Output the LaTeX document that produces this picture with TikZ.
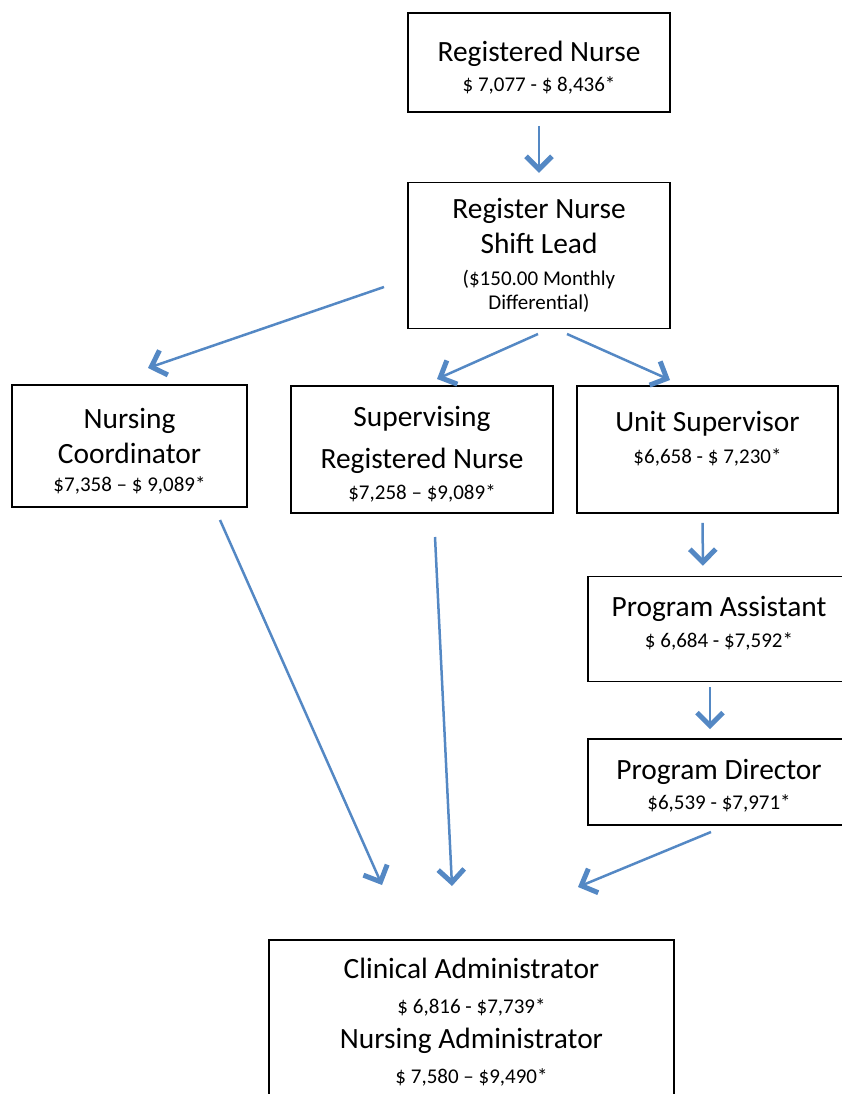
\documentclass[tikz,border=0pt]{standalone}
\usepackage{fontspec}
\setmainfont{Carlito}
\usetikzlibrary{positioning, arrows.meta, calc}
\definecolor{arrowblue}{RGB}{84,136,196}
\newcommand{\salary}[1]{{\fontsize{21}{25}\selectfont #1}}

\begin{document}
\begin{tikzpicture}[x=1pt, y=-1pt,%
  every node/.style={draw=black, line width=1.6pt, shape=rectangle, align=center,
    font=\fontsize{29.4}{35}\selectfont, inner sep=0pt},
  flow/.style={draw=arrowblue, line width=2.5pt,
    -{Straight Barb[length=13pt, width=26pt, line width=5pt]}}
  ]
  \useasboundingbox (0,0) rectangle (842,1094);
  \node[minimum width=262pt, minimum height=99pt] (rn) at (539,62.5)
    {\rule{0pt}{30pt}Registered Nurse\\[-5pt] \salary{\$ 7,077 - \$ 8,436*}};
  \node[minimum width=262pt, minimum height=146pt, below=69pt of rn] (lead)
    {Register Nurse\\Shift Lead\\[-3pt] \salary{(\$150.00 Monthly}\\[-11pt] \salary{Differential)}};
  \node[minimum width=235pt, minimum height=122pt] (coord) at (129.5,446)
    {\rule{0pt}{30pt}Nursing\\Coordinator\\[-7pt] \salary{\$7,358 -- \$ 9,089*}};
  \node[minimum width=262pt, minimum height=127pt] (srn) at (422,449.5)
    {\rule{0pt}{29pt}Supervising\\[7pt]Registered Nurse\\[-4pt] \salary{\$7,258 -- \$9,089*}};
  \node[minimum width=261pt, minimum height=127pt, text depth=25pt] (unit) at (707.5,449.5)
    {Unit Supervisor\\[-3pt] \salary{\$6,658 - \$ 7,230*}};
  \node[minimum width=262pt, minimum height=105pt, text depth=15pt] (pa) at (719,629)
    {Program Assistant\\[-4pt] \salary{\$ 6,684 - \$7,592*}};
  \node[minimum width=262pt, minimum height=86pt] (pd) at (719,782)
    {\rule{0pt}{27pt}Program Director\\[-5pt] \salary{\$6,539 - \$7,971*}};
  \node[minimum width=405pt, minimum height=164pt] (admin) at (471.5,1022)
    {Clinical Administrator\\ \salary{\$ 6,816 - \$7,739*}\\
     Nursing Administrator\\ \salary{\$ 7,580 -- \$9,490*}};
  % free ends of the slanted arrows
  \coordinate (leadL) at (384,287);
  \coordinate (coordT) at (148,368);
  \coordinate (leadM) at (538,334);
  \coordinate (srnT) at (437,379);
  \coordinate (leadR) at (567,334);
  \coordinate (unitT) at (670,380);
  \coordinate (coordB) at (220,520);
  \coordinate (srnB) at (435,537);
  \coordinate (pdB) at (711,832);
  \coordinate (adminL) at (382,885);
  \coordinate (adminM) at (452,886);
  \coordinate (adminR) at (578,887);
    \draw[flow, shorten <=13pt, shorten >=9pt] (rn.south) -- (lead.north);
    \draw[flow] (leadL) -- (coordT);
    \draw[flow] (leadM) -- (srnT);
    \draw[flow] (leadR) -- (unitT);
    \draw[flow, shorten <=9pt, shorten >=10pt] ([xshift=-5pt]unit.south) -- ([xshift=-16pt]pa.north);
    \draw[flow, shorten <=5pt, shorten >=9pt] ([xshift=-9pt]pa.south) -- ([xshift=-9pt]pd.north);
    \draw[flow] (coordB) -- (adminL);
    \draw[flow] (srnB) -- (adminM);
    \draw[flow] (pdB) -- (adminR);
\end{tikzpicture}
\end{document}
